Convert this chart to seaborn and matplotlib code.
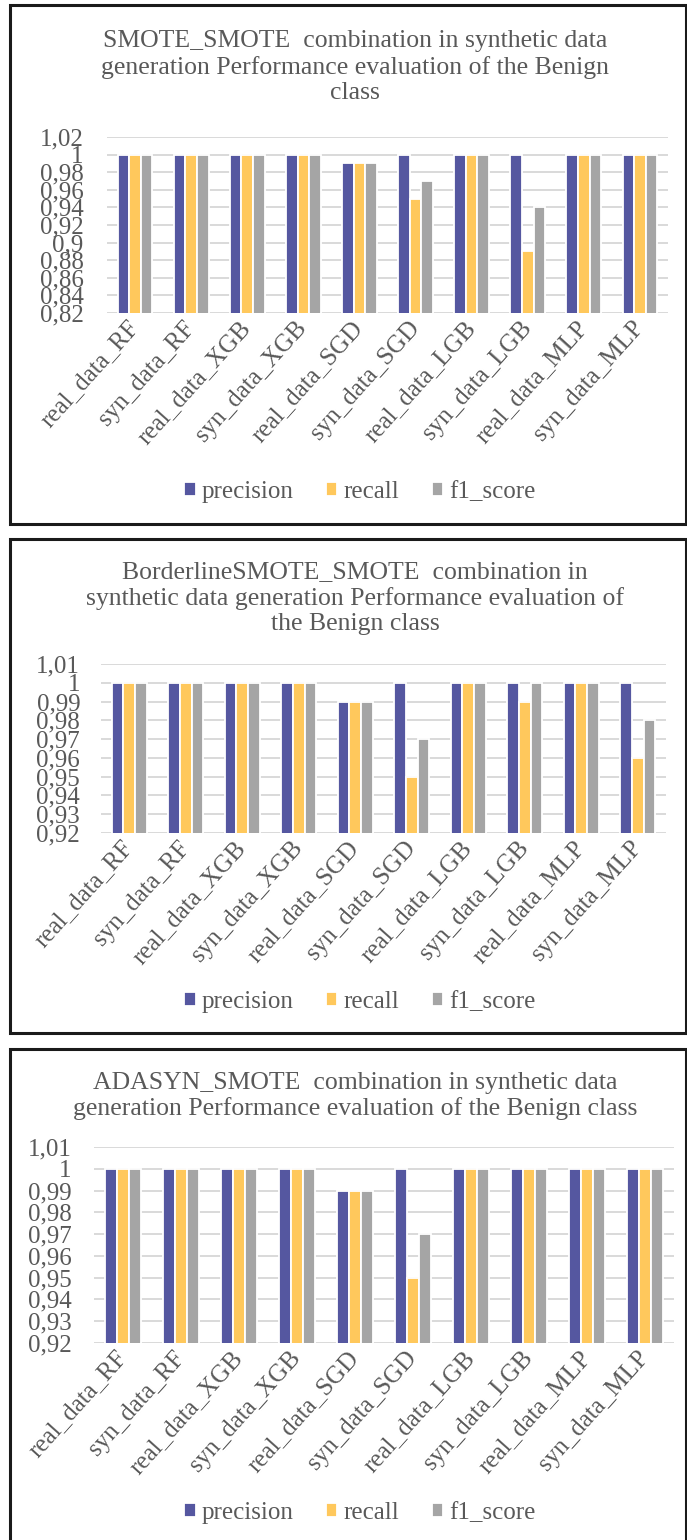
import numpy as np
import pandas as pd
import matplotlib
matplotlib.use("Agg")
import matplotlib.pyplot as plt
import seaborn as sns
from matplotlib.patches import Rectangle

# ---------------- data ----------------
models = ["real_data_RF", "syn_data_RF", "real_data_XGB", "syn_data_XGB",
          "real_data_SGD", "syn_data_SGD", "real_data_LGB", "syn_data_LGB",
          "real_data_MLP", "syn_data_MLP"]
metrics = ["precision", "recall", "f1_score"]

titles = [
    "SMOTE_SMOTE  combination in synthetic data\ngeneration Performance evaluation of the Benign\nclass",
    "BorderlineSMOTE_SMOTE  combination in\nsynthetic data generation Performance evaluation of\nthe Benign class",
    "ADASYN_SMOTE  combination in synthetic data\ngeneration Performance evaluation of the Benign class",
]

p1_precision = [1, 1, 1, 1, 0.99, 1, 1, 1, 1, 1]
p1_recall    = [1, 1, 1, 1, 0.99, 0.95, 1, 0.89, 1, 1]
p1_f1        = [1, 1, 1, 1, 0.99, 0.97, 1, 0.94, 1, 1]

p2_precision = [1, 1, 1, 1, 0.99, 1, 1, 1, 1, 1]
p2_recall    = [1, 1, 1, 1, 0.99, 0.95, 1, 0.99, 1, 0.96]
p2_f1        = [1, 1, 1, 1, 0.99, 0.97, 1, 1, 1, 0.98]

p3_precision = [1, 1, 1, 1, 0.99, 1, 1, 1, 1, 1]
p3_recall    = [1, 1, 1, 1, 0.99, 0.95, 1, 1, 1, 1]
p3_f1        = [1, 1, 1, 1, 0.99, 0.97, 1, 1, 1, 1]

p1_yticks = [0.82, 0.84, 0.86, 0.88, 0.90, 0.92, 0.94, 0.96, 0.98, 1.00, 1.02]
p2_yticks = [0.92, 0.93, 0.94, 0.95, 0.96, 0.97, 0.98, 0.99, 1.00, 1.01]
p3_yticks = [0.92, 0.93, 0.94, 0.95, 0.96, 0.97, 0.98, 0.99, 1.00, 1.01]

colors = ["#5557A0", "#FFC85C", "#A5A5A5"]
text_color = "#595959"

# ---------------- layout (pixels, top-left origin) ----------------
W, H = 687, 1540
panels = [
    dict(vals=(p1_precision, p1_recall, p1_f1), ticks=p1_yticks,
         box=(10, 5, 686, 524), ax=(107, 137, 668, 313), title_y=67, leg_y=492, ypad=17),
    dict(vals=(p2_precision, p2_recall, p2_f1), ticks=p2_yticks,
         box=(10, 539, 686, 1033), ax=(101, 664, 666, 833), title_y=598, leg_y=1002, ypad=15),
    dict(vals=(p3_precision, p3_recall, p3_f1), ticks=p3_yticks,
         box=(10, 1049, 686, 1545), ax=(94, 1147, 674, 1343), title_y=1096, leg_y=1513, ypad=16),
]

sns.set_theme(style="white")
plt.rcParams["font.family"] = ["Liberation Serif", "DejaVu Serif"]

fig = plt.figure(figsize=(W / 100, H / 100), dpi=100)
fig.patch.set_facecolor("white")


def fx(x):
    return x / W


def fy(y):
    return 1 - y / H


for i, pan in enumerate(panels):
    x0, y0, x1, y1 = pan["box"]
    fig.patches.append(Rectangle((fx(x0), fy(y1)), fx(x1) - fx(x0), fy(y0) - fy(y1),
                                 transform=fig.transFigure, fill=False,
                                 edgecolor="#1a1a1a", linewidth=2.2, zorder=0))
    fig.text(fx(355), fy(pan["title_y"]), titles[i], ha="center", va="center",
             fontsize=18.5, color=text_color, linespacing=1.22)

    ax0, ay0, ax1, ay1 = pan["ax"]
    ax = fig.add_axes([fx(ax0), fy(ay1), fx(ax1) - fx(ax0), fy(ay0) - fy(ay1)])

    prec, rec, f1 = pan["vals"]
    df = pd.DataFrame({
        "model": models * 3,
        "metric": [metrics[0]] * len(models) + [metrics[1]] * len(models) + [metrics[2]] * len(models),
        "value": list(prec) + list(rec) + list(f1),
    })
    sns.barplot(data=df, x="model", y="value", hue="metric", order=models,
                hue_order=metrics, palette=colors, width=0.62, saturation=1,
                edgecolor="white", linewidth=1.3, ax=ax, legend=True)

    ticks = pan["ticks"]
    ax.set_ylim(ticks[0], ticks[-1])
    ax.set_yticks(ticks)
    ax.set_yticklabels([f"{t:g}".replace(".", ",") for t in ticks])
    ax.set_xlim(-0.5, len(models) - 0.5)
    ax.set_xlabel("")
    ax.set_ylabel("")
    ax.yaxis.grid(True, color="#D9D9D9", linewidth=1.4)
    ax.set_axisbelow(True)
    for s in ax.spines.values():
        s.set_visible(False)
    ax.tick_params(axis="both", length=0, labelsize=18, colors=text_color)
    ax.tick_params(axis="y", pad=pan["ypad"])
    ax.tick_params(axis="x", pad=8)
    for lab in ax.get_xticklabels():
        lab.set_rotation(48)
        lab.set_ha("right")
        lab.set_va("center")
        lab.set_rotation_mode("anchor")

    handles, labels = ax.get_legend_handles_labels()
    ax.legend(handles, labels, loc="center", bbox_to_anchor=(fx(360), fy(pan["leg_y"])),
              bbox_transform=fig.transFigure, ncol=3, frameon=False,
              fontsize=18, handlelength=0.45, handleheight=0.45,
              handletextpad=0.25, columnspacing=1.3, labelcolor=text_color)

fig.savefig("out.png", dpi=100, facecolor="white")
